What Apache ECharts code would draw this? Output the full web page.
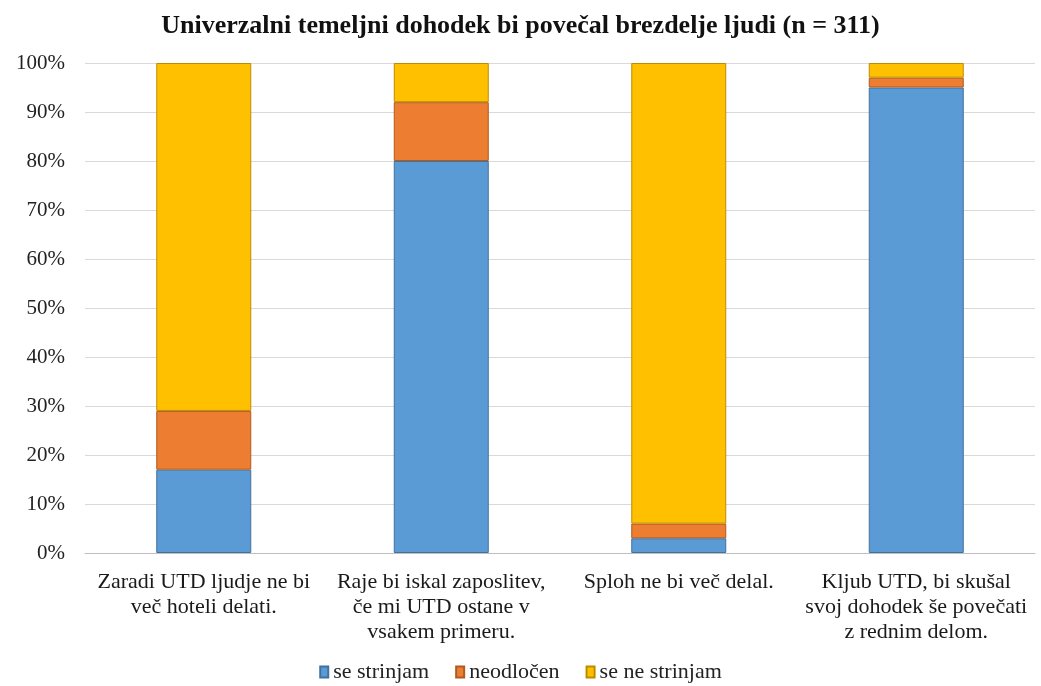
<!DOCTYPE html>
<html>
<head>
<meta charset="utf-8">
<script src="https://cdn.jsdelivr.net/npm/echarts@6/dist/echarts.min.js"></script>
<style>html,body{margin:0;padding:0;background:#fff;}#c{width:1041px;height:686px;}</style>
</head>
<body>
<div id="c"></div>
<script>
const categories = [
  "Zaradi UTD ljudje ne bi\nveč hoteli delati.",
  "Raje bi iskal zaposlitev,\nče mi UTD ostane v\nvsakem primeru.",
  "Sploh ne bi več delal.",
  "Kljub UTD, bi skušal\nsvoj dohodek še povečati\nz rednim delom."
];
const seStrinjam = [17, 80, 3, 95];
const neodlocen = [12, 12, 3, 2];
const seNeStrinjam = [71, 8, 94, 3];
const seriesNames = ["se strinjam", "neodločen", "se ne strinjam"];
const titleText = "Univerzalni temeljni dohodek bi povečal brezdelje ljudi (n = 311)";

const font = "'Liberation Serif', 'Times New Roman', serif";
const colors = ['#5B9BD5', '#ED7D31', '#FFC000'];
const borders = ['#41719C', '#AE5A21', '#BC8C00'];
const data = [seStrinjam, neodlocen, seNeStrinjam];

const chart = echarts.init(document.getElementById('c'));
chart.setOption({
  animation: false,
  title: {
    text: titleText, left: 'center', top: 8,
    textStyle: {fontFamily: font, fontWeight: 'bold', fontSize: 26, color: '#111'}
  },
  legend: {
    bottom: -2, left: 'center', itemWidth: 8, itemHeight: 11, itemGap: 26,
    icon: 'rect',
    textStyle: {fontFamily: font, fontSize: 22, color: '#222'},
    data: seriesNames
  },
  grid: {left: 85, right: 6, top: 63, bottom: 133},
  xAxis: {
    type: 'category', data: categories,
    axisLine: {lineStyle: {color: '#bfbfbf'}},
    axisTick: {show: false},
    axisLabel: {fontFamily: font, fontSize: 22, color: '#1a1a1a', lineHeight: 25, margin: 17, interval: 0}
  },
  yAxis: {
    type: 'value', min: 0, max: 100, interval: 10,
    axisLine: {show: false}, axisTick: {show: false},
    splitLine: {lineStyle: {color: '#d9d9d9', width: 1}},
    axisLabel: {fontFamily: font, fontSize: 21, color: '#222', margin: 20, formatter: '{value}%'}
  },
  series: seriesNames.map((n, i) => ({
    name: n, type: 'bar', stack: 'a', barWidth: '40%',
    data: data[i],
    itemStyle: {color: colors[i], borderColor: borders[i], borderWidth: 1}
  }))
});
</script>
</body>
</html>
